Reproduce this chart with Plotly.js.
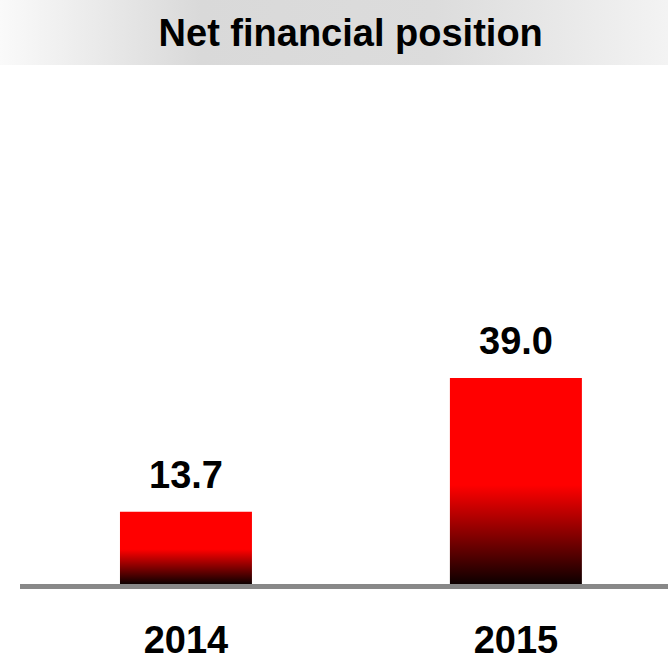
<!DOCTYPE html>
<html>
<head>
<meta charset="utf-8">
<script src="https://cdn.plot.ly/plotly-3.0.1.min.js"></script>
<style>
  html, body { margin: 0; padding: 0; background: #ffffff; }
  #chart { width: 668px; height: 666px; }
</style>
</head>
<body>
<div id="chart"></div>
<script>
const categories = ["2014", "2015"];
const values = [13.7, 39.0];
const valueLabels = ["13.7", "39.0"];
const chartTitle = "Net financial position";

const FONT = "Liberation Sans, Arial, sans-serif";

const trace = {
  type: "bar",
  x: categories,
  y: values,
  marker: { color: "#ff0000", line: { width: 0 } },
  hoverinfo: "skip"
};

const annotations = categories.map((c, i) => ({
  x: i, y: values[i], xref: "x", yref: "y",
  text: "<b>" + valueLabels[i] + "</b>",
  showarrow: false, yanchor: "bottom", yshift: 14,
  font: { family: FONT, size: 38, color: "#000000" }
}));

const layout = {
  width: 668, height: 666,
  margin: { l: 20, r: 0, t: 56, b: 82 },
  paper_bgcolor: "#ffffff",
  plot_bgcolor: "rgba(0,0,0,0)",
  showlegend: false,
  bargap: 0.6,
  title: {
    text: "<b>" + chartTitle + "</b>",
    font: { family: FONT, size: 38, color: "#000000" },
    xref: "container", x: 0.525, xanchor: "center",
    yref: "container", y: 1 - 33 / 666, yanchor: "middle"
  },
  xaxis: {
    type: "category",
    range: [-0.503, 1.461],
    showgrid: false, zeroline: false,
    showline: true, linecolor: "#888888", linewidth: 5,
    ticks: "", ticklabelstandoff: 18,
    tickfont: { family: FONT, size: 38, color: "#000000" },
    tickprefix: "<b>", ticksuffix: "</b>",
    fixedrange: true
  },
  yaxis: {
    range: [0, 100],
    visible: false, showgrid: false, zeroline: false,
    fixedrange: true
  },
  shapes: [{
    type: "rect", layer: "below",
    xref: "paper", yref: "paper",
    x0: -20 / 648, x1: 1,
    y0: 1 - 9 / 528, y1: 1 + 56 / 528,
    fillcolor: "#dcdcdc", line: { width: 0 }
  }],
  annotations: annotations
};

Plotly.newPlot("chart", [trace], layout, { displayModeBar: false, staticPlot: true }).then(gd => {
  const svgNS = "http://www.w3.org/2000/svg";
  const svg = gd.querySelector("svg.main-svg");
  let defs = svg.querySelector("defs");
  if (!defs) { defs = document.createElementNS(svgNS, "defs"); svg.insertBefore(defs, svg.firstChild); }

  function grad(id, x2, y2, stops) {
    const g = document.createElementNS(svgNS, "linearGradient");
    g.setAttribute("id", id);
    g.setAttribute("x1", "0"); g.setAttribute("y1", "0");
    g.setAttribute("x2", x2); g.setAttribute("y2", y2);
    stops.forEach(s => {
      const st = document.createElementNS(svgNS, "stop");
      st.setAttribute("offset", s[0]);
      st.setAttribute("stop-color", s[1]);
      g.appendChild(st);
    });
    defs.appendChild(g);
  }
  grad("barGrad", "0", "1", [["0", "#ff0000"], ["0.52", "#ff0000"], ["1", "#0d0000"]]);
  grad("bannerGrad", "1", "0", [["0", "#fafafa"], ["0.3", "#d9d9d9"], ["0.65", "#dcdcdc"], ["1", "#f3f3f3"]]);

  gd.querySelectorAll(".bars .point path").forEach(p => { p.style.fill = "url(#barGrad)"; });
  gd.querySelectorAll(".shapelayer path").forEach(p => { p.style.fill = "url(#bannerGrad)"; p.style.fillOpacity = 1; });
});
</script>
</body>
</html>
